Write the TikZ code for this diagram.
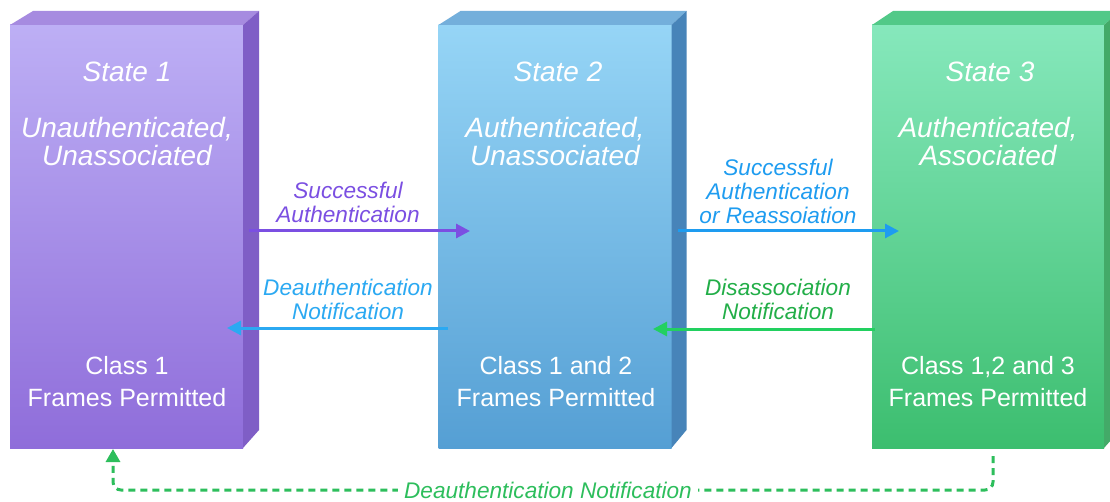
\documentclass[tikz,border=0pt]{standalone}
\usepackage{fontspec}
\setmainfont{Liberation Sans}
\usetikzlibrary{arrows.meta,calc}
\definecolor{pFrontTop}{HTML}{BDAFF5}
\definecolor{pFrontBot}{HTML}{8F6DDA}
\definecolor{pTop}{HTML}{A68BE0}
\definecolor{pSide}{HTML}{7F5EC6}
\definecolor{bFrontTop}{HTML}{96D5F6}
\definecolor{bFrontBot}{HTML}{559FD4}
\definecolor{bTop}{HTML}{74AFDB}
\definecolor{bSide}{HTML}{4784B9}
\definecolor{gFrontTop}{HTML}{86E8BC}
\definecolor{gFrontBot}{HTML}{3CBE6F}
\definecolor{gTop}{HTML}{52C988}
\definecolor{gSide}{HTML}{43AA68}
\definecolor{cPurple}{HTML}{7B4FE2}
\definecolor{cCyan}{HTML}{2BA9F2}
\definecolor{cBlue}{HTML}{1E9CF0}
\definecolor{cGreenTxt}{HTML}{22AE48}
\definecolor{cGreenArr}{HTML}{22D060}
\definecolor{cDash}{HTML}{2DBE5C}
\tikzset{
  front/.style={minimum width=233pt, minimum height=423pt, inner sep=0pt, outer sep=0pt},
  titletxt/.style={text=white, font=\fontsize{28}{28}\selectfont\itshape, align=center, inner sep=0pt},
  classtxt/.style={text=white, font=\fontsize{25}{32}\selectfont, align=center, inner sep=0pt},
  lbl/.style={font=\fontsize{22.6}{24}\selectfont\itshape, align=center, inner sep=0pt},
  arr/.style={line width=3pt, -{Triangle[length=14pt,width=14pt]}},
  dashline/.style={line width=3pt, dash pattern=on 7pt off 5pt, color=cDash, rounded corners=8pt, -{Triangle[length=13pt,width=14pt]}}
}
\begin{document}
\begin{tikzpicture}[x=1pt,y=-1pt]
\clip (0,0) rectangle (1110,502);
\fill[white] (0,0) rectangle (1110,502);

% ---- Box 1
\node[front, top color=pFrontTop, bottom color=pFrontBot] (s1) at (126.5,236.5) {};
\fill[pTop] (s1.north west) -- ++(23,-14) -- ($(s1.north east)+(16,-14)$) -- (s1.north east) -- cycle;
\fill[pSide] (s1.north east) -- ++(16,-14) -- ($(s1.south east)+(16,-18)$) -- (s1.south east) -- cycle;
% ---- Box 2
\node[front, top color=bFrontTop, bottom color=bFrontBot] (s2) at (555,236.5) {};
\fill[bTop] (s2.north west) -- ++(22,-14) -- ($(s2.north east)+(15,-14)$) -- (s2.north east) -- cycle;
\fill[bSide] (s2.north east) -- ++(15,-14) -- ($(s2.south east)+(15,-18)$) -- (s2.south east) -- cycle;
% ---- Box 3
\node[front, top color=gFrontTop, bottom color=gFrontBot, minimum width=232pt] (s3) at (988,236.5) {};
\fill[gTop] (s3.north west) -- ++(21,-14) -- ($(s3.north east)+(16,-14)$) -- (s3.north east) -- cycle;
\fill[gSide] (s3.north east) -- ++(16,-14) -- ($(s3.south east)+(16,-18)$) -- (s3.south east) -- cycle;

% ---- Box texts
\node[titletxt] (t1a) at (127,72) {State 1};
\node[titletxt] (t1b) at (127,142) {Unauthenticated,\\Unassociated};
\node[classtxt] (c1) at (127,382) {Class 1\\Frames Permitted};

\node[titletxt] (t2a) at (558,72) {State 2};
\node[titletxt] (t2b) at (555,142) {Authenticated,\\Unassociated};
\node[classtxt] (c2) at (556,382) {Class 1 and 2\\Frames Permitted};

\node[titletxt] (t3a) at (990,72) {State 3};
\node[titletxt] (t3b) at (988,142) {Authenticated,\\Associated};
\node[classtxt] (c3) at (988,382) {Class 1,2 and 3\\Frames Permitted};

% ---- Arrows between boxes
\coordinate (a1s) at (249,231);
\coordinate (a1e) at (470,231);
\draw[arr, cPurple] (a1s) -- (a1e);
\node[lbl, text=cPurple] (l1) at (348,202) {Successful\\Authentication};

\coordinate (a2s) at (448,328);
\coordinate (a2e) at (227,328);
\draw[arr, cCyan] (a2s) -- (a2e);
\node[lbl, text=cCyan] (l2) at (348,299) {Deauthentication\\Notification};

\coordinate (a3s) at (678,231);
\coordinate (a3e) at (899,231);
\draw[arr, cBlue] (a3s) -- (a3e);
\node[lbl, text=cBlue] (l3) at (778,191) {Successful\\Authentication\\or Reassoiation};

\coordinate (a4s) at (875,329);
\coordinate (a4e) at (653,329);
\draw[arr, cGreenArr] (a4s) -- (a4e);
\node[lbl, text=cGreenTxt] (l4) at (778,299) {Disassociation\\Notification};

% ---- Dashed return path
\coordinate (d1) at (993,456);
\coordinate (d2) at (113,449);
\draw[dashline] (d1) |- ($(d2)+(0,41)$) -- (d2);
\node[lbl, text=cDash, fill=white, inner xsep=6pt, inner ysep=2pt] (l5) at (548,490) {Deauthentication Notification};
\end{tikzpicture}
\end{document}
